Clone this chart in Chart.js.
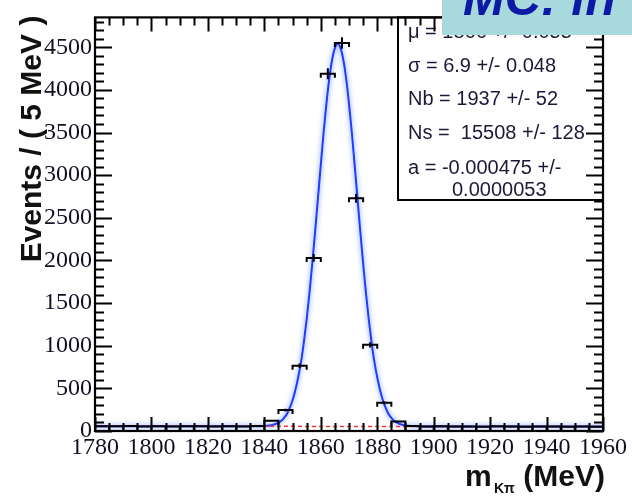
<!DOCTYPE html>
<html>
<head>
<meta charset="utf-8">
<script src="https://cdn.jsdelivr.net/npm/chart.js@4.4.1/dist/chart.umd.min.js"></script>
<style>
  html, body { margin: 0; padding: 0; background: #fff; }
</style>
</head>
<body>
<canvas id="massChart" width="632" height="499"></canvas>
<script>
// K pi invariant mass, 5 MeV bins (bin centres in MeV)
const binCentres = [1782.5, 1787.5, 1792.5, 1797.5, 1802.5, 1807.5, 1812.5, 1817.5, 1822.5, 1827.5, 1832.5, 1837.5,
  1842.5, 1847.5, 1852.5, 1857.5, 1862.5, 1867.5, 1872.5, 1877.5, 1882.5, 1887.5,
  1892.5, 1897.5, 1902.5, 1907.5, 1912.5, 1917.5, 1922.5, 1927.5, 1932.5, 1937.5, 1942.5, 1947.5, 1952.5, 1957.5];
const binEvents = [57, 55, 58, 54, 56, 53, 57, 55, 52, 56, 54, 58,
  120, 245, 765, 2030, 4190, 4550, 2730, 1010, 330, 110,
  58, 53, 55, 52, 54, 51, 55, 53, 50, 54, 52, 51, 53, 50];

// fitted signal + background
const fitMass = [1780, 1800, 1820, 1836, 1840, 1842, 1844, 1845, 1846, 1847, 1848, 1849, 1850, 1851, 1852, 1853,
  1854, 1855, 1856, 1857, 1858, 1859, 1860, 1861, 1862, 1863, 1864, 1865, 1866, 1867, 1868, 1869, 1870, 1871,
  1872, 1873, 1874, 1875, 1876, 1877, 1878, 1879, 1880, 1881, 1882, 1883, 1884, 1885, 1886, 1887, 1888, 1890,
  1892, 1896, 1920, 1960];
const fitEvents = [56, 55.5, 55, 54.5, 58, 65, 82, 98, 120, 155, 200, 270, 360, 480, 630, 810,
  1040, 1310, 1620, 1970, 2340, 2730, 3120, 3500, 3840, 4130, 4350, 4490, 4540, 4490, 4350, 4130, 3840, 3500,
  3120, 2730, 2340, 1970, 1620, 1310, 1040, 810, 630, 480, 360, 270, 200, 155, 120, 98, 82, 65,
  58, 54, 53, 51.5];

// background component only
const bkgMass = [1780, 1870, 1960];
const bkgEvents = [56, 53.8, 51.5];

const xTicks = [1780, 1800, 1820, 1840, 1860, 1880, 1900, 1920, 1940, 1960];
const yTicks = [0, 500, 1000, 1500, 2000, 2500, 3000, 3500, 4000, 4500];

const fitLines = [
  "\u03bc = 1866 +/- 0.055",
  "\u03c3 = 6.9 +/- 0.048",
  "Nb = 1937 +/- 52",
  "Ns =  15508 +/- 128",
  "a = -0.000475 +/-",
  "0.0000053"
];

const toPoints = (xs, ys) => xs.map((v, i) => ({ x: v, y: ys[i] }));

const rootStyle = {
  id: 'rootStyle',
  beforeDatasetDraw(chart, args) {
    if (args.index === 1) {
      // soft halo round the fit line
      const ctx = chart.ctx;
      ctx.save();
      ctx.shadowColor = 'rgba(60,110,255,0.8)';
      ctx.shadowBlur = 5;
    }
  },
  afterDatasetDraw(chart, args) {
    if (args.index === 1) chart.ctx.restore();
  },
  afterDatasetsDraw(chart) {
    const { ctx, chartArea: a, scales: { x, y } } = chart;
    ctx.save();

    // fit result box
    ctx.fillStyle = '#fff';
    ctx.fillRect(398, a.top, a.right - 398, 200 - a.top);
    ctx.strokeStyle = '#000';
    ctx.lineWidth = 2;
    ctx.strokeRect(398, a.top, a.right - 398, 200 - a.top);
    ctx.fillStyle = '#1a1a38';
    ctx.font = '20px "Liberation Sans", Arial, sans-serif';
    ctx.textAlign = 'left';
    ctx.textBaseline = 'alphabetic';
    const lineY = [38, 72, 105, 139, 174, 196];
    fitLines.forEach((t, i) => ctx.fillText(t, i === 5 ? 452 : 408, lineY[i]));

    // ticks pointing into the frame
    ctx.strokeStyle = '#000';
    ctx.lineWidth = 2;
    ctx.beginPath();
    for (let v = 0; v <= 4850; v += 100) {
      const py = Math.round(y.getPixelForValue(v)) + 0.5;
      const len = v % 500 === 0 ? 17 : 9;
      ctx.moveTo(a.left, py); ctx.lineTo(a.left + len, py);
      ctx.moveTo(a.right, py); ctx.lineTo(a.right - len, py);
    }
    for (let m = 1780; m <= 1960; m += 5) {
      const px = Math.round(x.getPixelForValue(m)) + 0.5;
      const len = m % 20 === 0 ? 14 : 8;
      ctx.moveTo(px, a.bottom); ctx.lineTo(px, a.bottom - len);
      ctx.moveTo(px, a.top); ctx.lineTo(px, a.top + len);
    }
    ctx.stroke();

    // frame
    ctx.lineWidth = 2.2;
    ctx.strokeRect(a.left, a.top, a.right - a.left, a.bottom - a.top);

    // data points with error bars
    const meta = chart.getDatasetMeta(0);
    const halfBin = x.getPixelForValue(1782.5) - x.getPixelForValue(1780);
    ctx.lineWidth = 2;
    ctx.beginPath();
    meta.data.forEach((pt, i) => {
      const v = binEvents[i];
      const err = Math.sqrt(v);
      const yHi = y.getPixelForValue(v + err);
      const yLo = y.getPixelForValue(v - err);
      ctx.moveTo(pt.x - halfBin, pt.y); ctx.lineTo(pt.x + halfBin, pt.y);
      ctx.moveTo(pt.x, yHi); ctx.lineTo(pt.x, yLo);
      ctx.moveTo(pt.x - halfBin, pt.y - 1); ctx.lineTo(pt.x - halfBin, pt.y + 4);
      ctx.moveTo(pt.x + halfBin, pt.y - 1); ctx.lineTo(pt.x + halfBin, pt.y + 4);
    });
    ctx.stroke();

    // axis titles
    ctx.fillStyle = '#111';
    ctx.save();
    ctx.translate(41, 139);
    ctx.rotate(-Math.PI / 2);
    ctx.textAlign = 'center';
    ctx.font = 'bold 30px "Liberation Sans", Arial, sans-serif';
    ctx.fillText('Events / ( 5 MeV )', 0, 0);
    ctx.restore();

    ctx.textAlign = 'left';
    ctx.font = 'bold 30px "Liberation Sans", Arial, sans-serif';
    ctx.fillText('m', 465, 486);
    ctx.font = 'bold 14px "Liberation Sans", Arial, sans-serif';
    ctx.fillText('K\u03c0', 494, 493);
    ctx.textAlign = 'right';
    ctx.font = 'bold 30px "Liberation Sans", Arial, sans-serif';
    ctx.fillText('(MeV)', 605, 486);

    // label banner
    ctx.fillStyle = '#a8d9dd';
    ctx.fillRect(442, 0, 190, 35);
    ctx.fillStyle = '#0c1aa6';
    ctx.textAlign = 'left';
    ctx.font = 'italic bold 50px "Liberation Sans", Arial, sans-serif';
    ctx.fillText('MC: in', 463, 15);

    ctx.restore();
  }
};

const tickFont = { family: '"Liberation Serif", "Times New Roman", serif', size: 24 };

new Chart(document.getElementById('massChart'), {
  type: 'scatter',
  data: {
    datasets: [
      {
        label: 'MC',
        data: toPoints(binCentres, binEvents),
        pointRadius: 0,
        showLine: false,
        order: 0
      },
      {
        label: 'fit',
        type: 'line',
        data: toPoints(fitMass, fitEvents),
        borderColor: '#1f3cff',
        borderWidth: 2,
        pointRadius: 0,
        cubicInterpolationMode: 'monotone',
        order: 2
      },
      {
        label: 'background',
        type: 'line',
        data: toPoints(bkgMass, bkgEvents),
        borderColor: '#ff3434',
        borderWidth: 1.5,
        borderDash: [4, 3],
        pointRadius: 0,
        order: 1
      }
    ]
  },
  options: {
    responsive: false,
    animation: false,
    layout: { padding: { top: 15, right: 29, left: 0, bottom: 0 } },
    plugins: { legend: { display: false }, tooltip: { enabled: false } },
    scales: {
      x: {
        type: 'linear',
        min: 1780,
        max: 1960,
        grid: { display: false, drawTicks: false },
        border: { display: false },
        afterBuildTicks: s => { s.ticks = xTicks.map(v => ({ value: v })); },
        afterFit: s => { s.height = 68; },
        ticks: { font: tickFont, color: '#101024', padding: 2, maxRotation: 0, autoSkip: false, callback: v => String(v) }
      },
      y: {
        type: 'linear',
        min: 0,
        max: 4850,
        grid: { display: false, drawTicks: false },
        border: { display: false },
        afterBuildTicks: s => { s.ticks = yTicks.map(v => ({ value: v })); },
        afterFit: s => { s.width = 95; },
        ticks: { font: tickFont, color: '#101024', padding: 3, autoSkip: false, callback: v => String(v) }
      }
    }
  },
  plugins: [rootStyle]
});
</script>
</body>
</html>
